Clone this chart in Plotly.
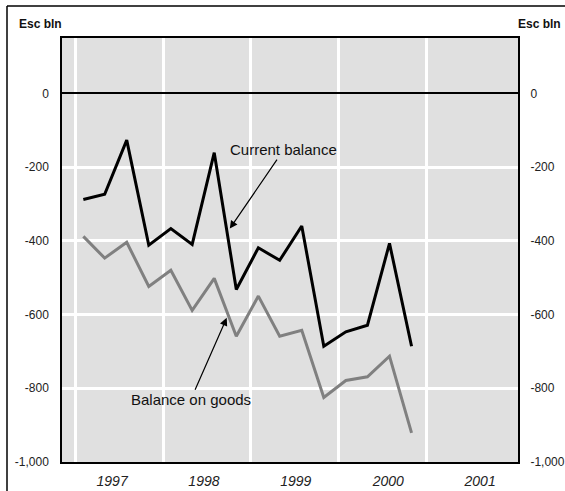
import plotly.graph_objects as go

# quarterly observations, plotted in the second month of each quarter
quarters = [
    "1997-02-01", "1997-05-01", "1997-08-01", "1997-11-01",
    "1998-02-01", "1998-05-01", "1998-08-01", "1998-11-01",
    "1999-02-01", "1999-05-01", "1999-08-01", "1999-11-01",
    "2000-02-01", "2000-05-01", "2000-08-01", "2000-11-01",
]
current_balance = [-288, -274, -127, -412, -367, -410, -161, -532,
                   -419, -453, -360, -686, -647, -629, -407, -686]
balance_on_goods = [-388, -447, -404, -524, -480, -589, -502, -659,
                    -550, -659, -643, -825, -779, -769, -713, -921]

year_lines = ["1997-01-01", "1998-01-01", "1999-01-01", "2000-01-01", "2001-01-01"]
year_label_pos = ["1997-06-01", "1998-06-19", "1999-07-07", "2000-07-27", "2001-08-14"]
year_labels = ["1997", "1998", "1999", "2000", "2001"]

y_ticks = [-1000, -800, -600, -400, -200, 0]
y_labels = ["-1,000", "-800", "-600", "-400", "-200", "0"]

FONT = "Liberation Sans, Arial, sans-serif"
x_range = ["1996-11-04", "2002-01-19"]
y_range = [-1000, 150]

fig = go.Figure()

fig.add_trace(go.Scatter(
    x=quarters, y=balance_on_goods, mode="lines",
    line=dict(color="#808080", width=3), hoverinfo="skip",
))
fig.add_trace(go.Scatter(
    x=quarters, y=current_balance, mode="lines",
    line=dict(color="#000000", width=3), hoverinfo="skip",
))
# empty trace so the right-hand axis gets drawn
fig.add_trace(go.Scatter(x=[None], y=[None], yaxis="y2", hoverinfo="skip"))

axis_font = dict(size=12, color="#222222")

fig.update_layout(
    width=565,
    height=491,
    margin=dict(l=62, r=47, t=38, b=29, autoexpand=False),
    paper_bgcolor="white",
    plot_bgcolor="#e0e0e0",
    showlegend=False,
    font=dict(family=FONT, color="#222222"),
    xaxis=dict(
        type="date",
        range=x_range,
        automargin=False,
        tickmode="array",
        tickvals=year_label_pos,
        ticktext=[f"<i>{t}</i>" for t in year_labels],
        tickfont=dict(size=14, color="#222222"),
        ticks="outside",
        ticklen=5,
        tickcolor="rgba(0,0,0,0)",
        showgrid=False,
        minor=dict(
            tickmode="array",
            tickvals=year_lines,
            showgrid=True,
            gridcolor="white",
            gridwidth=2.5,
            ticks="",
        ),
        showline=True,
        linecolor="black",
        linewidth=1.5,
        mirror=True,
        zeroline=False,
    ),
    yaxis=dict(
        range=y_range,
        automargin=False,
        tickmode="array",
        tickvals=y_ticks,
        ticktext=y_labels,
        tickfont=axis_font,
        ticks="outside",
        ticklen=9,
        tickcolor="rgba(0,0,0,0)",
        showgrid=True,
        gridcolor="white",
        gridwidth=2.5,
        zeroline=True,
        zerolinecolor="black",
        zerolinewidth=2,
        showline=True,
        linecolor="black",
        linewidth=1.5,
        mirror=True,
    ),
    yaxis2=dict(
        range=y_range,
        overlaying="y",
        side="right",
        anchor="x",
        automargin=False,
        tickmode="array",
        tickvals=y_ticks,
        ticktext=y_labels,
        tickfont=axis_font,
        ticks="outside",
        ticklen=9,
        tickcolor="rgba(0,0,0,0)",
        showgrid=False,
        zeroline=False,
    ),
)

# units labels
for xpos, anchor in [(17, "left"), (563, "right")]:
    fig.add_annotation(
        text="<b>Esc bln</b>", xref="paper", yref="paper",
        x=(xpos - 62) / 456, y=(491 - 29 - 24) / 424,
        xanchor=anchor, yanchor="middle", showarrow=False,
        font=dict(size=12, color="#111111"),
    )

# series labels with arrows
fig.add_annotation(
    text="Current balance", x="1998-10-05", y=-367,
    ax=54, ay=-79, showarrow=True,
    arrowhead=2, arrowsize=1.3, arrowwidth=1.2, arrowcolor="black",
    font=dict(size=15, color="#111111"),
)
fig.add_annotation(
    text="Balance on goods", x="1998-09-22", y=-609,
    ax=-36, ay=82, showarrow=True,
    arrowhead=2, arrowsize=1.3, arrowwidth=1.2, arrowcolor="black",
    font=dict(size=15, color="#111111"),
)

# outer frame (top and left edges visible)
fig.add_shape(type="line", xref="paper", yref="paper",
              x0=(7 - 62) / 456, x1=(570 - 62) / 456,
              y0=(491 - 29 - 6) / 424, y1=(491 - 29 - 6) / 424,
              line=dict(color="black", width=1.5))
fig.add_shape(type="line", xref="paper", yref="paper",
              x0=(7 - 62) / 456, x1=(7 - 62) / 456,
              y0=(491 - 29 - 6) / 424, y1=-0.1,
              line=dict(color="black", width=1.5))

# drop the default page margin so the figure sits at the window's corner
fig.write_html(
    "out.html",
    config={"displayModeBar": False},
    post_script="document.body.style.margin='0';",
)
